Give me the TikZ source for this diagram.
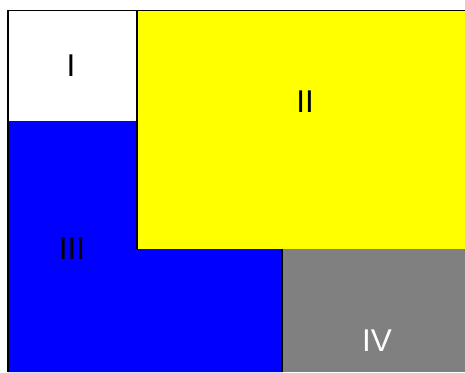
\documentclass[tikz,border=0pt]{standalone}
\usepackage{fontspec}
\setmainfont{Liberation Sans}
\usetikzlibrary{positioning}
\definecolor{zoneyellow}{RGB}{255,255,0}
\definecolor{zoneblue}{RGB}{0,0,255}
\definecolor{zonegray}{RGB}{128,128,128}
\tikzset{
  tag/.style  = {font=\fontsize{31.5}{36}\selectfont, inner sep=0pt},
  edge/.style = {draw=black, line width=1.1pt},
}
\begin{document}
\begin{tikzpicture}[x=1pt,y=-1pt]
    \useasboundingbox (0,0) rectangle (465,372);
    % regions
    \fill[white]  (8,10.5) rectangle (137,121);
    \fill[zoneyellow] (137,10.5) rectangle (465,249);
    \fill[zoneblue]   (8,121) -- (137,121) -- (137,249) -- (282,249) -- (282,372) -- (8,372) -- cycle;
    \fill[zonegray]   (282,249) rectangle (465,372);
    % borders
    \draw[edge] (8,372) -- (8,10.5) -- (465,10.5);
    \draw[edge] (137,10.5) -- (137,249);
    \draw[edge] (282,249) -- (282,372);
    % labels
    \node[tag] (one)   at (71,66)   {I};
    \node[tag] (two)   at (305,102) {II};
    \node[tag] (three) at (72,249)  {III};
    \node[tag, text=white] (four) at (377,341) {IV};
\end{tikzpicture}
\end{document}
